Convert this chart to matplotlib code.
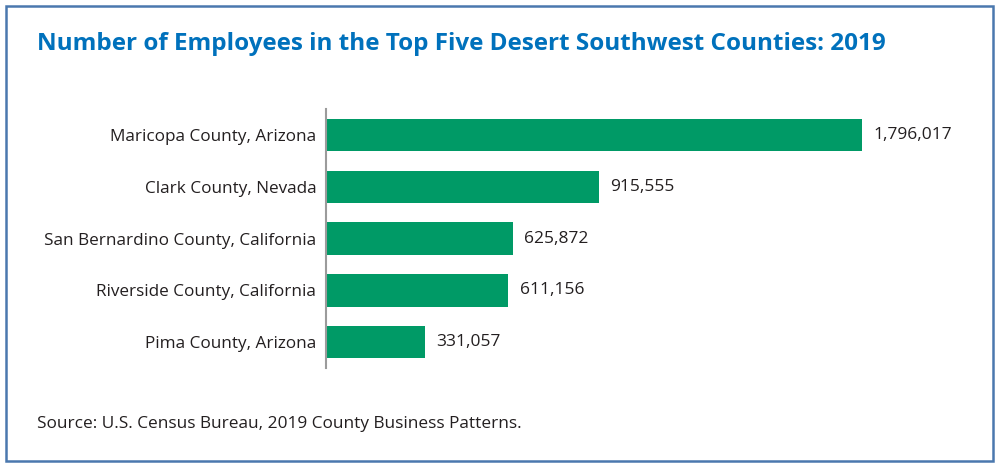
import matplotlib.pyplot as plt
from matplotlib.patches import Rectangle

counties = [
    "Maricopa County, Arizona",
    "Clark County, Nevada",
    "San Bernardino County, California",
    "Riverside County, California",
    "Pima County, Arizona",
]
employees = [1796017, 915555, 625872, 611156, 331057]

title = "Number of Employees in the Top Five Desert Southwest Counties: 2019"
source = "Source: U.S. Census Bureau, 2019 County Business Patterns."

plt.rcParams['font.family'] = ['Open Sans', 'DejaVu Sans']

fig = plt.figure(figsize=(10, 4.68), dpi=100)
ax = fig.add_axes([0.326, 0.2137, 0.634, 0.553])

ypos = list(range(len(counties)))
bars = ax.barh(ypos, employees, height=0.63, color='#009a66')

ax.set_ylim(4.5, -0.5)
ax.set_xlim(0, max(employees) * 634 / 536)
ax.set_yticks(ypos)
ax.set_yticklabels(counties, fontsize=12.3, color='#231f20')
ax.tick_params(axis='y', length=0, pad=7)
ax.set_xticks([])

for side in ['top', 'right', 'bottom']:
    ax.spines[side].set_visible(False)
ax.spines['left'].set_color('#9b9b9b')
ax.spines['left'].set_linewidth(1.5)

for b, v in zip(bars, employees):
    ax.annotate(f'{v:,}', (b.get_width(), b.get_y() + b.get_height() / 2),
                xytext=(8, 0), textcoords='offset points',
                va='center', ha='left', fontsize=12.5, color='#231f20')

fig.text(0.037, 0.905, title, fontsize=17.5, fontweight='bold',
         color='#0071bc', ha='left', va='center')
fig.text(0.037, 0.094, source, fontsize=12.4, color='#231f20',
         ha='left', va='center')

fig.patches.append(Rectangle((0.006, 0.015), 0.987, 0.972, transform=fig.transFigure,
                             fill=False, edgecolor='#4a78ae', linewidth=1.8))

fig.savefig('out.png', dpi=100)
